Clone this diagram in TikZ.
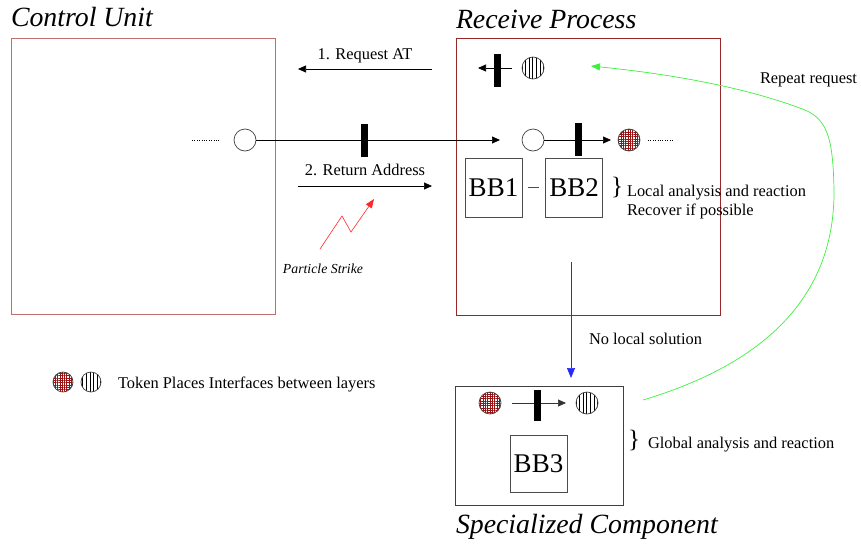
\documentclass[tikz,border=0pt]{standalone}
\usepackage{fontspec}
\setmainfont{Liberation Serif}
\usetikzlibrary{arrows.meta,patterns.meta}

\definecolor{cuRed}{RGB}{190,110,110}
\definecolor{rpRed}{RGB}{150,40,40}
\definecolor{tokRed}{RGB}{150,20,20}
\definecolor{strikeRed}{RGB}{255,40,40}
\definecolor{repGreen}{RGB}{60,240,60}
\definecolor{escBlue}{RGB}{40,40,255}

\begin{document}
\begin{tikzpicture}[x=1pt,y=-1pt,
  every node/.style={inner sep=0pt, outer sep=0pt},
  place/.style={circle, draw=black!75, line width=0.7pt, minimum size=22pt},
  gridtoken/.style={place, pattern={Hatch[angle=0,distance=2.3pt,line width=0.6pt]}, pattern color=tokRed},
  striptoken/.style={place, pattern={Lines[angle=90,distance=3.6pt,line width=0.7pt]}, pattern color=black},
  bar/.style={fill=black, minimum width=7pt, minimum height=33pt},
  bbox/.style={draw=black!70, line width=0.7pt, minimum width=57pt, minimum height=59pt, font=\fontsize{27}{30}\selectfont},
  frame/.style={anchor=north west, line width=0.8pt},
  title/.style={anchor=base west, font=\fontsize{27.8}{32}\selectfont\itshape},
  lbl/.style={font=\fontsize{16.4}{19}\selectfont},
  brace/.style={font=\fontsize{25}{28}\selectfont},
  tip/.style={-{Triangle[length=8pt,width=7pt]}},
  dots/.style={dash pattern=on 1pt off 1.4pt, line width=0.6pt}
]
\useasboundingbox (0,0) rectangle (861,546);

% ---------- frames and titles ----------
\node[frame, draw=cuRed, minimum width=264pt, minimum height=276pt] (cu) at (11,38) {};
\node[frame, draw=rpRed, minimum width=264pt, minimum height=277pt] (rp) at (456,38) {};
\node[frame, draw=black!75, minimum width=168pt, minimum height=119pt] (sc) at (455,386) {};

\node[title] (cuT) at (11,27) {Control Unit};
\node[title] (rpT) at (456,28) {Receive Process};
\node[title] (scT) at (456,533) {Specialized Component};

% ---------- main token path ----------
\coordinate (d1a) at (192,140);
\coordinate (d1b) at (220,140);
\draw[dots] (d1a) -- (d1b);
\node[place] (p1) at (245,140) {};
\node[place] (p2) at (533,140) {};
\node[gridtoken] (p3) at (629,140) {};
\draw[tip, line width=0.7pt, shorten >=22pt] (p1) -- (p2);
\node[bar] (t1) at (364.5,140) {};
\draw[tip, line width=0.7pt, shorten >=7pt] (p2) -- (p3);
\node[bar] (t2) at (578,139) {};
\coordinate (d2a) at (648,140);
\coordinate (d2b) at (673,140);
\draw[dots] (d2a) -- (d2b);

% ---------- request token inside receive process ----------
\node[striptoken] (p4) at (533,68) {};
\coordinate (a4) at (478,68);
\draw[tip, line width=0.7pt, shorten <=10pt] (p4) -- (a4);
\node[bar] (t3) at (497,70) {};

% ---------- request / return messages ----------
\coordinate (rqA) at (432,69);
\coordinate (rqB) at (298,69);
\draw[tip, line width=0.7pt] (rqA) -- (rqB);
\node[lbl, anchor=base] (rqL) at (365,59) {1. Request AT};

\coordinate (raA) at (298,186);
\coordinate (raB) at (432,186);
\draw[tip, line width=0.7pt] (raA) -- (raB);
\node[lbl, anchor=base] (raL) at (365,175) {2. Return Address};

% ---------- particle strike ----------
\coordinate (ps1) at (320,249);
\coordinate (ps2) at (342,216);
\coordinate (ps3) at (351,232);
\coordinate (ps4) at (374,199);
\draw[strikeRed, line width=0.6pt, -{Triangle[length=9pt,width=7pt]}] (ps1) -- (ps2) -- (ps3) -- (ps4);
\node[anchor=base, font=\fontsize{13.8}{16}\selectfont\itshape] (psL) at (323,273) {Particle Strike};

% ---------- building blocks ----------
\node[bbox] (bb1) at (493.5,187.5) {BB1};
\node[bbox] (bb2) at (574,187.5) {BB2};
\draw[black!70, line width=0.7pt, shorten <=6pt, shorten >=7pt] (bb1) -- (bb2);
\node[brace] (br1) at (617,187) {\}};
\node[lbl, anchor=base west] (loc1) at (627,196) {Local analysis and reaction};
\node[lbl, anchor=base west] (loc2) at (627,215) {Recover if possible};

% ---------- escalation ----------
\coordinate (blA) at (571,262);
\coordinate (blB) at (571,378);
\draw[escBlue, line width=0.7pt, -{Triangle[length=10pt,width=8pt]}] (blA) -- (blB);
\node[lbl, anchor=base west] (nls) at (589,344) {No local solution};

% ---------- specialized component contents ----------
\node[gridtoken] (p5) at (490,403) {};
\node[striptoken] (p6) at (587,403) {};
\draw[tip, line width=0.7pt, black!80, shorten <=11pt, shorten >=10pt] (p5) -- (p6);
\node[bar, minimum height=31pt] (t4) at (537,405) {};
\node[bbox, minimum height=57pt] (bb3) at (538.5,463.5) {BB3};
\node[brace] (br2) at (634,440) {\}};
\node[lbl, anchor=base west] (glob) at (648,448) {Global analysis and reaction};

% ---------- repeat request ----------
\coordinate (grA) at (643,400);
\coordinate (grB) at (591,66);
\draw[repGreen, line width=0.7pt, -{Triangle[length=9pt,width=7pt]}]
  (grA) .. controls (760,365) and (835,300) .. (834,190)
        .. controls (833,140) and (828,120) .. (805,110)
        .. controls (740,85) and (660,73) .. (grB);
\node[lbl, anchor=base west] (rep) at (760,83) {Repeat request};

% ---------- legend ----------
\node[gridtoken, minimum size=20pt] (lg1) at (63,382) {};
\node[striptoken, minimum size=20pt] (lg2) at (91,382) {};
\node[lbl, anchor=base west] (lgL) at (118,388) {Token Places Interfaces between layers};
\end{tikzpicture}
\end{document}
